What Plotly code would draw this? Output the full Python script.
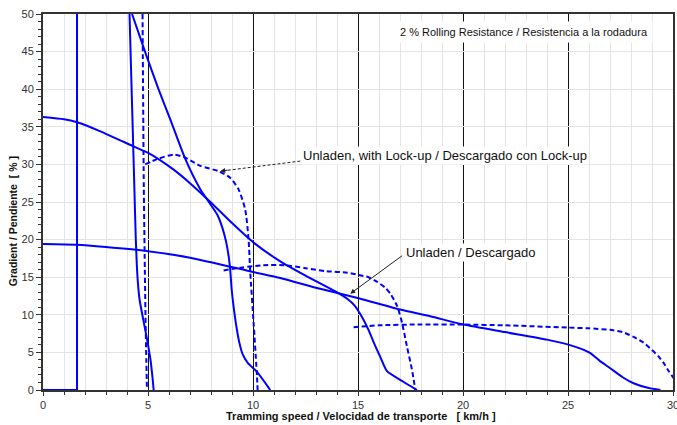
import plotly.graph_objects as go

FONT = "Liberation Sans, Arial, sans-serif"
BLUE = "#0000FF"

# curve data (km/h, %)
c1_x = [0, 1.62, 1.62]
c1_y = [0, 0, 50]

c2_x = [4.12, 4.2, 4.28, 4.35, 4.42, 4.5, 4.6, 4.8, 4.97, 5.12, 5.22, 5.27]
c2_y = [50, 42, 34, 27, 20, 15, 12, 9, 6.5, 4, 1.5, 0]

c3_x = [4.74, 4.77, 4.8, 4.84, 4.88, 4.92, 4.95]
c3_y = [50, 38, 27, 18, 10, 4, 0]

c4_x = [4.24, 4.87, 5.5, 6.06, 6.78, 7.49, 7.97, 8.3, 8.55, 8.72, 8.84, 8.92, 8.98, 9.08, 9.2, 9.35, 9.5, 9.75, 10.19, 10.82]
c4_y = [50, 44.9, 40, 36, 30.7, 26.7, 24.7, 23.3, 21.5, 19.7, 17.8, 15.8, 13.5, 11.0, 8.6, 6.3, 4.8, 3.6, 2.4, 0]

c5_x = [4.87, 5.43, 6.22, 6.78, 7.49, 8.36, 8.92, 9.31, 9.63, 9.79, 9.87, 10.03, 10.19, 10.22]
c5_y = [30, 30.7, 31.3, 30.9, 29.8, 29.1, 28.2, 26.7, 24, 20, 15.6, 8.9, 1.8, 0]

c6_x = [0, 1.0, 1.62, 2.73, 4.31, 5.03, 6.22, 7.0, 7.97, 9.0, 10.03, 11.3, 12.5, 13.92, 14.5, 14.85, 15.15, 15.5, 15.8, 16.06, 16.38, 17.1, 17.81]
c6_y = [36.3, 36.0, 35.6, 34.4, 32.4, 31.5, 29.3, 27.5, 25.0, 22.2, 19.6, 17.1, 15.2, 13.1, 12.1, 11.2, 9.9, 8.0, 6.0, 4.4, 2.5, 1.2, 0]

c7_x = [8.6, 9.5, 10.5, 11.5, 12.5, 13.5, 14.5, 15.03, 15.5, 15.9, 16.3, 16.54, 16.86, 17.1, 17.33, 17.57, 17.73]
c7_y = [15.9, 16.3, 16.6, 16.6, 16.2, 15.8, 15.6, 15.3, 15.0, 14.4, 13.6, 12.8, 11.2, 8.9, 5.8, 2.7, 0]

c8_x = [0, 1.62, 3, 5, 7, 10, 11.3, 13, 15.03, 17, 18.44, 20.03, 22, 24, 25.06, 25.6, 26.06, 26.5, 27.01, 27.6, 28.12, 28.8, 29.4]
c8_y = [19.4, 19.3, 19.0, 18.45, 17.6, 15.7, 14.9, 13.6, 12.2, 10.7, 9.8, 8.7, 7.7, 6.7, 6.0, 5.5, 4.9, 3.9, 2.9, 1.7, 0.9, 0.3, 0]

c9_x = [14.79, 16, 18, 20, 22, 25, 26, 27, 27.6, 28.1, 28.6, 29, 29.3, 29.55, 29.8, 30.1]
c9_y = [8.35, 8.6, 8.72, 8.7, 8.6, 8.3, 8.2, 8.0, 7.7, 7.1, 6.3, 5.3, 4.5, 3.6, 2.5, 1.3]

solid = [(c1_x, c1_y, "linear"), (c2_x, c2_y, "spline"), (c4_x, c4_y, "spline"),
         (c6_x, c6_y, "spline"), (c8_x, c8_y, "spline")]
dashed = [(c3_x, c3_y), (c5_x, c5_y), (c7_x, c7_y), (c9_x, c9_y)]

fig = go.Figure()
for xs, ys, shp in solid:
    line = dict(color=BLUE, width=2, shape=shp)
    if shp == "spline":
        line["smoothing"] = 0.6
    fig.add_trace(go.Scatter(x=xs, y=ys, mode="lines", line=line, showlegend=False, hoverinfo="skip"))
for xs, ys in dashed:
    fig.add_trace(go.Scatter(x=xs, y=ys, mode="lines",
                             line=dict(color=BLUE, width=2, dash="5px,3px", shape="spline", smoothing=0.6),
                             showlegend=False, hoverinfo="skip"))

# dashed pointer for lock-up label
lk_tail = (12.25, 30.44)
lk_tip = (8.44, 29.1)
fig.add_shape(type="line", xref="x", yref="y", x0=lk_tail[0], y0=lk_tail[1], x1=lk_tip[0] + 0.35, y1=lk_tip[1] + 0.12,
              line=dict(color="#222", width=1, dash="3px,2px"))
fig.add_annotation(x=lk_tip[0], y=lk_tip[1], ax=9, ay=-1.2, axref="pixel", ayref="pixel", text="",
                   showarrow=True, arrowhead=2, arrowsize=1, arrowwidth=1, arrowcolor="#222", standoff=0)

# solid pointer for unladen label
fig.add_annotation(x=14.63, y=12.8, ax=17.17, ay=18.0, axref="x", ayref="y", text="",
                   showarrow=True, arrowhead=2, arrowsize=1, arrowwidth=1, arrowcolor="#222", standoff=0)

fig.add_annotation(x=12.28, y=31.2, xanchor="left", yanchor="middle", showarrow=False,
                   text="Unladen, with Lock-up / Descargado con Lock-up", bgcolor="white",
                   font=dict(family=FONT, size=13, color="#111"))
fig.add_annotation(x=17.2, y=18.3, xanchor="left", yanchor="middle", showarrow=False,
                   text="Unladen / Descargado", bgcolor="white",
                   font=dict(family=FONT, size=13, color="#111"))
fig.add_annotation(x=16.75, y=47.6, xanchor="left", yanchor="middle", showarrow=False,
                   text="2 % Rolling Resistance / Resistencia a la rodadura", bgcolor="white",
                   borderpad=4,
                   font=dict(family=FONT, size=11, color="#111"))

# axis titles
fig.add_annotation(xref="paper", yref="paper", x=0.505, y=-0.07, xanchor="center", yanchor="middle",
                   showarrow=False, text="<b>Tramming speed / Velocidad de transporte\u00a0\u00a0\u00a0[ km/h ]</b>",
                   font=dict(family=FONT, size=11, color="#111"))
fig.add_annotation(xref="paper", yref="paper", x=-0.0476, y=0.449, xanchor="center", yanchor="middle",
                   textangle=-90, showarrow=False, text="<b>Gradient / Pendiente\u00a0\u00a0[ % ]</b>",
                   font=dict(family=FONT, size=10.5, color="#111"))

fig.update_layout(
    width=677, height=425,
    margin=dict(l=43, r=4, t=14, b=35, autoexpand=False),
    paper_bgcolor="white", plot_bgcolor="white",
    font=dict(family=FONT, size=11, color="#333"),
    xaxis=dict(
        range=[0, 30], tick0=0, dtick=5, showgrid=True, gridcolor="#111", gridwidth=1,
        zeroline=False, showline=True, linecolor="#333", linewidth=2, mirror=True,
        ticks="outside", ticklen=4, tickcolor="#333", automargin=False, ticklabeloverflow="allow",
        minor=dict(dtick=1, showgrid=True, gridcolor="#e4e4e4", gridwidth=1, ticks="outside", ticklen=3, tickcolor="#333"),
        tickfont=dict(family=FONT, size=11, color="#333"),
    ),
    yaxis=dict(
        range=[0, 50], tick0=0, dtick=5, showgrid=True, gridcolor="#e4e4e4", gridwidth=1,
        zeroline=False, showline=True, linecolor="#333", linewidth=2, mirror=True,
        ticks="outside", ticklen=5, tickcolor="#333", automargin=False,
        minor=dict(dtick=1, showgrid=False, ticks="outside", ticklen=3, tickcolor="#333"),
        tickfont=dict(family=FONT, size=11, color="#333"),
    ),
)

fig.write_html("out.html", config={"displayModeBar": False},
               post_script="document.body.style.margin='0';document.body.style.overflow='hidden';")
